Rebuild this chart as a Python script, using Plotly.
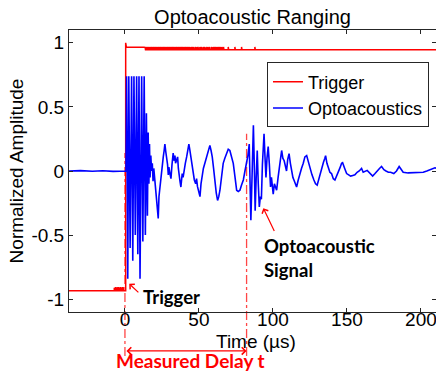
import plotly.graph_objects as go

# ---- Optoacoustic receiver trace (normalized amplitude vs time in microseconds)
sig_t = [-38.0, -30.0, -22.0, -15.0, -8.0, -3.0, 0.5,
         0.7, 1.1, 1.9, 2.6, 3.5, 4.5, 5.3, 6.1, 7.0, 7.9, 8.7, 9.5, 10.2,
         11.3, 12.1, 13.0, 13.8, 14.5, 15.2, 15.7,
         16.2, 16.6, 17.0, 17.5, 18.0, 18.5, 19.0, 19.5, 20.3, 21.0, 21.4, 22.0,
         22.5, 23.0, 23.6, 24.2, 24.8, 25.4, 25.9, 26.5, 27.0, 27.6, 28.2, 28.8,
         29.3, 29.7, 30.4, 31.1, 31.8, 32.6, 33.2, 33.8, 34.2, 35.0, 35.6, 36.1,
         36.5, 37.2, 37.8, 38.3, 38.7, 39.3, 40.0, 40.8, 41.7, 42.5, 43.2, 43.9,
         44.6, 45.3, 46.1, 46.9, 47.8, 48.4, 49.0, 49.8, 50.7, 51.4, 52.2, 53.0,
         54.0, 55.0, 55.9, 56.7, 57.4, 58.2, 59.0, 59.9, 60.8, 61.7, 62.6, 63.4,
         64.2, 65.3, 66.4, 67.5, 68.7, 69.8, 70.9, 72.0, 73.2, 74.3, 75.5, 76.6,
         77.7, 78.8, 80.0, 81.1, 82.2, 83.1, 84.0, 84.6, 85.1, 86.0, 86.8, 87.4,
         88.0, 88.7, 89.4, 90.1, 90.8, 91.5, 92.2, 92.9, 94.0, 94.6, 95.3, 96.0,
         96.8, 97.6, 98.4, 99.0, 99.6, 100.2, 101.0, 101.8, 102.5, 103.5, 104.5,
         105.2, 105.9, 106.7, 107.6, 108.4, 109.2, 110.0, 110.9, 111.8, 112.7,
         113.5, 114.2, 115.1, 116.0, 117.1, 118.2, 119.3, 120.5, 121.6, 122.8,
         123.9, 125.0, 126.4, 127.7, 128.8, 129.9, 131.4, 132.9, 134.2, 135.1,
         135.6, 136.5, 137.4, 138.5, 139.6, 140.8, 141.9, 143.0, 144.1, 145.5,
         146.4, 147.1, 148.5, 149.8, 151.2, 152.5, 154.0, 155.4, 156.9, 158.3,
         159.9, 161.0, 163.7, 165.5, 167.4, 169.0, 170.5, 172.0, 173.4, 175.0,
         176.4, 178.0, 179.5, 181.7, 183.5, 185.3, 186.5, 188.0, 191.4, 194.0,
         197.0, 199.5, 201.6, 204.0, 206.0, 208.0, 209.5, 211.0]
sig_v = [0.0, 0.003, -0.002, 0.002, -0.003, 0.002, 0.0,
         0.0, 0.74, -0.84, 0.74, -0.6, 0.74, -0.7, 0.74, -0.5, 0.74, -0.65, 0.74, -0.84,
         0.74, -0.55, 0.74, -0.5, 0.45, -0.35, 0.3,
         -0.1, 0.21, -0.05, 0.12, 0.0, 0.06, -0.08, 0.02, -0.1, -0.15, -0.2, -0.28,
         -0.37, -0.2, -0.125, -0.04, 0.0, 0.08, 0.11, 0.16, 0.21, 0.15, 0.11, 0.05,
         -0.03, 0.03, -0.02, -0.06, 0.05, 0.14, 0.08, 0.12, 0.06, 0.09, 0.11, 0.02,
         -0.03, -0.08, -0.125, -0.06, -0.02, -0.05, 0.02, 0.06, 0.11, 0.15, 0.21, 0.16,
         0.11, 0.04, -0.02, -0.07, -0.1, -0.06, -0.12, -0.15, -0.2, -0.1, -0.03, 0.02,
         0.06, 0.1, 0.14, 0.17, 0.2, 0.16, 0.11, 0.02, -0.1, -0.17, -0.23, -0.2,
         -0.15, -0.05, 0.06, 0.1, 0.14, 0.17, 0.16, 0.12, 0.06, -0.04, -0.15, -0.16,
         -0.15, -0.11, -0.07, 0.0, 0.07, 0.12, 0.21, -0.1, -0.385, 0.0, 0.357, 0.05,
         -0.31, -0.05, 0.16, -0.1, -0.28, -0.2, -0.22, 0.05, 0.29, 0.12, -0.05, 0.1,
         0.19, 0.05, -0.125, -0.05, -0.1, -0.18, -0.1, -0.13, -0.15, -0.05, 0.02,
         0.1, 0.16, 0.1, 0.08, 0.03, 0.0, 0.09, 0.135, 0.06, -0.02,
         -0.05, -0.07, -0.1, -0.125, -0.07, -0.02, 0.02, 0.06, 0.11, 0.12,
         0.07, 0.03, -0.03, -0.07, -0.1, -0.11, -0.04, 0.02, 0.07, 0.1,
         0.12, 0.06, 0.02, -0.01, -0.02, -0.06, -0.07, -0.04, -0.02, 0.03,
         0.06, 0.065, 0.02, -0.02, -0.03, -0.04, -0.035, -0.03, -0.01, 0.0,
         0.02, -0.01, 0.005, -0.02, -0.04, -0.02, 0.005, 0.02, 0.035, 0.01,
         0.0, -0.01, -0.01, -0.02, 0.0, 0.035, 0.015, -0.01, -0.015, -0.014,
         -0.015, -0.012, -0.01, 0.0, 0.01, 0.015, 0.025, 0.02]

# ---- Trigger channel: low level, step at firing, high level with ringing
trig_low = -0.935
trig_low_peak = -0.91
trig_fire_t = 0.5
trig_overshoot = 1.0
trig_settle = 0.965
trig_high = 0.945
trig_high_peak = 0.968
trig_end_t = 211.0
pre_ripple_t = [-7.2, -6.8, -6.4, -6.0, -5.6, -5.2, -4.8, -4.4, -4.0, -3.6,
                -3.2, -2.8, -2.4, -2.0, -1.6, -1.2]
post_ripple_t = [13.6, 14.3, 15.1, 15.8, 16.6, 17.4, 18.1, 18.9, 19.6, 20.4,
                 21.2, 22.0, 22.7, 23.5, 24.2, 25.0, 25.8, 26.5, 27.3, 28.1,
                 28.8, 29.6, 30.3, 31.1, 31.9, 32.6, 33.4, 34.2, 34.9, 35.7,
                 36.4, 37.2, 38.0, 38.7, 39.5, 40.3, 41.0, 41.8, 42.6, 43.5,
                 44.6, 45.4, 46.3, 47.5, 48.6, 49.4, 50.6, 51.5, 52.7, 53.6,
                 54.8, 55.9, 57.0, 58.3, 59.4, 60.2, 61.0, 61.9, 62.8, 63.6,
                 64.5, 65.5, 66.6, 69.8, 74.3, 78.8, 87.8]

# ---- Timing annotations
trigger_time = 0.0
echo_time = 82.2

trig_t = [-38.0]
trig_v = [trig_low]
for t in pre_ripple_t:
    trig_t += [t, t, t + 0.2]
    trig_v += [trig_low, trig_low_peak, trig_low]
trig_t += [trig_fire_t, trig_fire_t, 1.0, 13.4]
trig_v += [trig_low, trig_overshoot, trig_settle, trig_settle]
for t in post_ripple_t:
    trig_t += [t, t, t + 0.3]
    trig_v += [trig_high, trig_high_peak, trig_high]
trig_t.append(trig_end_t)
trig_v.append(trig_high)

RED = "rgb(255,0,0)"
BLUE = "rgb(0,0,255)"
AXIS = "#262626"
BASE_FONT = "Liberation Sans, Arial, sans-serif"
NOTE_FONT = "Lato, Calibri, sans-serif"

fig = go.Figure()
fig.add_trace(go.Scatter(x=trig_t, y=trig_v, mode="lines", name="Trigger",
                         line=dict(color=RED, width=1.5)))
fig.add_trace(go.Scatter(x=sig_t, y=sig_v, mode="lines", name="Optoacoustics",
                         line=dict(color=BLUE, width=1.6)))

# dash-dot markers at trigger time and echo arrival, running below the axis
marker_dash = dict(color="rgb(255,70,70)", width=1.3, dash="dashdot")
fig.add_shape(type="line", xref="x", yref="paper", x0=trigger_time, x1=trigger_time,
              y0=-0.156, y1=0.564, line=marker_dash, layer="below")
fig.add_shape(type="line", xref="x", yref="paper", x0=echo_time, x1=echo_time,
              y0=-0.156, y1=0.632, line=marker_dash, layer="below")

# axis title for time placed between the tick labels and the delay arrow
fig.add_annotation(x=0.5095, y=-0.103, xref="paper", yref="paper", text="Time (µs)",
                   showarrow=False, font=dict(family=BASE_FONT, size=19, color="black"),
                   xanchor="center", yanchor="middle")

# measured delay double arrow
fig.add_annotation(x=echo_time, y=-0.138, xref="x", yref="paper",
                   ax=trigger_time, ay=0, axref="x", ayref="pixel",
                   text="", showarrow=True, arrowhead=4, arrowside="end+start",
                   arrowsize=1.1, arrowwidth=1.3, arrowcolor=RED, standoff=0, startstandoff=0)
fig.add_annotation(x=44.0, y=-61 / 282, xref="x", yref="paper", text="<b>Measured Delay t</b>",
                   showarrow=False, font=dict(family=NOTE_FONT, size=19, color=RED),
                   xanchor="center", yanchor="bottom", yshift=-1)

# trigger label
fig.add_annotation(x=31.4, y=-0.98, xref="x", yref="y", text="<b>Trigger</b>",
                   showarrow=False, font=dict(family=NOTE_FONT, size=18.5, color="black"),
                   xanchor="center", yanchor="middle")
fig.add_annotation(x=2.9, y=-0.88, xref="x", yref="y", ax=10.1, ay=-0.958,
                   axref="x", ayref="y", text="", showarrow=True, arrowhead=4,
                   arrowsize=1.1, arrowwidth=1.2, arrowcolor=RED, standoff=0)

# optoacoustic signal label
fig.add_annotation(x=92.4, y=-0.682, xref="x", yref="y", text="<b>Optoacoustic<br>Signal</b>",
                   showarrow=False, align="left",
                   font=dict(family=NOTE_FONT, size=18.5, color="black"),
                   xanchor="left", yanchor="middle")
fig.add_annotation(x=93.5, y=-0.29, xref="x", yref="y", ax=101.4, ay=-0.48,
                   axref="x", ayref="y", text="", showarrow=True, arrowhead=4,
                   arrowsize=1.1, arrowwidth=1.2, arrowcolor=RED, standoff=0)

fig.update_layout(
    width=436, height=373,
    margin=dict(l=69, r=0, t=30, b=61),
    paper_bgcolor="white", plot_bgcolor="white",
    font=dict(family=BASE_FONT, size=19, color="black"),
    title=dict(text="Optoacoustic Ranging", x=0.5, xref="paper", xanchor="center",
               y=1 - 17 / 373, yref="container", yanchor="middle",
               font=dict(family=BASE_FONT, size=20, color="black")),
    showlegend=True,
    legend=dict(x=0.5395, y=0.885, xanchor="left", yanchor="top",
                bgcolor="white", bordercolor=AXIS, borderwidth=1,
                font=dict(family=BASE_FONT, size=18, color="black"),
                tracegroupgap=0, itemwidth=30),
)
fig.update_xaxes(range=[-37.8, 210.2], showgrid=False, zeroline=False,
                 showline=True, linecolor=AXIS, linewidth=1, mirror="ticks",
                 ticks="inside", ticklen=4, tickcolor=AXIS,
                 ticklabelstandoff=-10, ticklabeloverflow="allow",
                 tickvals=[0, 50, 100, 150, 200], ticktext=["0", "50", "100", "150", "200"])
fig.update_yaxes(range=[-1.1, 1.1], showgrid=False, zeroline=False,
                 showline=True, linecolor=AXIS, linewidth=1, mirror="ticks",
                 ticks="inside", ticklen=4, tickcolor=AXIS,
                 tickvals=[-1, -0.5, 0, 0.5, 1], ticktext=["-1", "-0.5", "0", "0.5", "1"],
                 title=dict(text="Normalized Amplitude", standoff=2, font=dict(size=19)))

fig.write_html("out.html")
